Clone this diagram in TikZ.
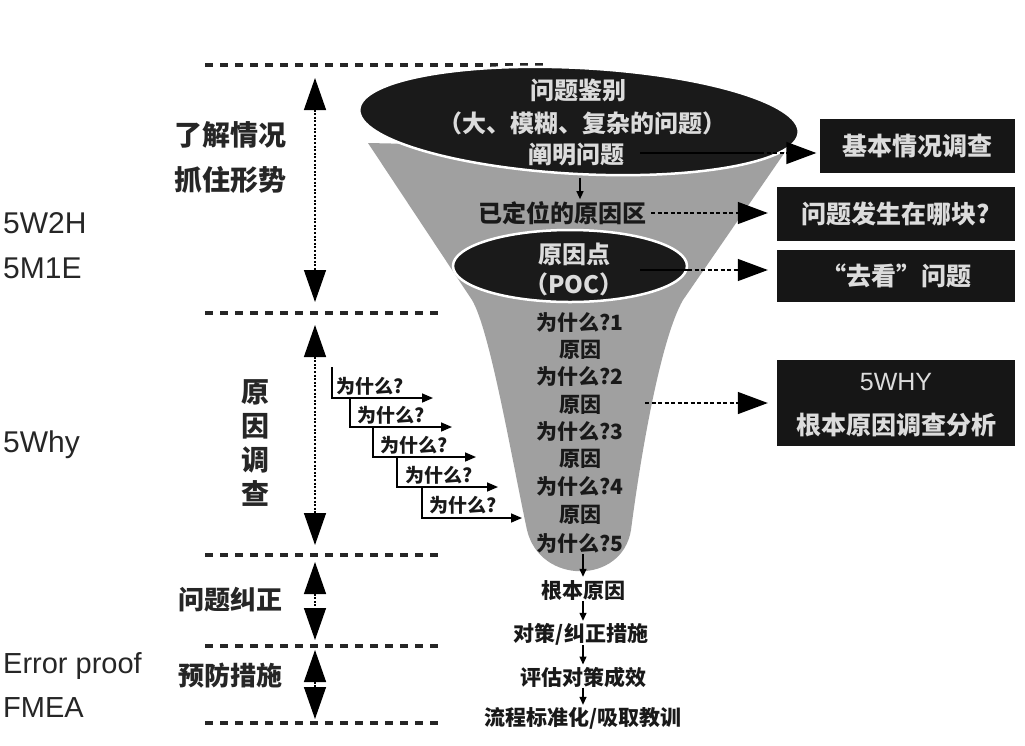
\documentclass[tikz,border=0pt]{standalone}
\usepackage{fontspec}
\setmainfont{Liberation Sans}
\newfontfamily\cjk{Noto Sans CJK SC}
\usetikzlibrary{arrows.meta,shapes.geometric}
\definecolor{funnelgray}{HTML}{A0A0A0}
\definecolor{ink}{HTML}{1A1A1A}
\definecolor{boxfill}{HTML}{161616}
\definecolor{paletext}{HTML}{DCDCDC}
\definecolor{lefttext}{HTML}{262626}
\tikzset{
  cb/.style={font=\cjk\bfseries\fontsize{#1}{#1}\selectfont, inner sep=0pt},
  cr/.style={font=\cjk\fontsize{#1}{#1}\selectfont, inner sep=0pt},
  lat/.style={font=\fontsize{#1}{#1}\selectfont, inner sep=0pt, anchor=base west, text=lefttext},
  sepline/.style={line width=3.5pt, dash pattern=on 8pt off 7pt, draw=black!85},
  spanarrow/.style={line width=1.4pt, dash pattern=on 2pt off 1.6pt, {Triangle[length=32pt,width=22pt]}-{Triangle[length=32pt,width=22pt]}},
  boxarrow/.style={line width=1.4pt, dash pattern=on 4pt off 2.5pt, -{Triangle[length=30pt,width=22pt]}},
  stairarrow/.style={line width=1.6pt, -{Triangle[length=11pt,width=9pt]}},
  smallarrow/.style={line width=1.3pt, -{Triangle[length=8pt,width=7pt]}},
  darkbox/.style={fill=boxfill, text=paletext, inner sep=0pt},
  tube/.style={cb=21, text=black!90},
  lefthead/.style={cb=#1, text=lefttext},
  pale/.style={cb=24, text=paletext},
}
\begin{document}
\begin{tikzpicture}[x=1pt,y=-1pt]
\useasboundingbox (0,0) rectangle (1025,745);
\fill[white] (0,0) rectangle (1025,745);

% separator lines
\draw[sepline] (205,65) -- (545,65);
\draw[sepline] (205,313) -- (440,313);
\draw[sepline] (205,555) -- (440,555);
\draw[sepline] (205,646) -- (440,646);
\draw[sepline] (205,723) -- (440,723);

% span arrows
\coordinate (s1a) at (315,78);  \coordinate (s1b) at (315,302);
\coordinate (s2a) at (315,325); \coordinate (s2b) at (315,545);
\coordinate (s3a) at (315,562); \coordinate (s3b) at (315,640);
\coordinate (s4a) at (315,650); \coordinate (s4b) at (315,719);
\draw[spanarrow] (s1a) -- (s1b);
\draw[spanarrow] (s2a) -- (s2b);
\draw[spanarrow] (s3a) -- (s3b);
\draw[spanarrow] (s4a) -- (s4b);

% left texts
\node[lefthead=28] (know1) at (230,135) {了解情况};
\node[lefthead=28] (know2) at (230,180) {抓住形势};
\node[lat=30] (w2h) at (3,233) {5W2H};
\node[lat=30] (m1e) at (3,278) {5M1E};
\node[lat=30] (fivewhy) at (3,452) {5Why};
\node[font=\cjk\bfseries\fontsize{28}{34}\selectfont, text=lefttext, inner sep=0pt, align=center] (cause) at (255,443) {原\\因\\调\\查};
\node[lefthead=26] (corr) at (230,600) {问题纠正};
\node[lefthead=26] (prev) at (230,676) {预防措施};
\node[lat=29] (ep) at (3,673) {Error proof};
\node[lat=29] (fmea) at (3,717) {FMEA};

% stairs
\coordinate (st1) at (332,367); \coordinate (st1e) at (433,398);
\coordinate (st2) at (350,398); \coordinate (st2e) at (452,427);
\coordinate (st3) at (373,427); \coordinate (st3e) at (476,457);
\coordinate (st4) at (397,457); \coordinate (st4e) at (498,487);
\coordinate (st5) at (422,487); \coordinate (st5e) at (522,518);
\draw[stairarrow] (st1) |- (st1e);
\draw[stairarrow] (st2) |- (st2e);
\draw[stairarrow] (st3) |- (st3e);
\draw[stairarrow] (st4) |- (st4e);
\draw[stairarrow] (st5) |- (st5e);
\node[cb=19, text=black!90] (q1) at (370,386) {为什么?};
\node[cb=19, text=black!90] (q2) at (391,415) {为什么?};
\node[cb=19, text=black!90] (q3) at (414,445) {为什么?};
\node[cb=19, text=black!90] (q4) at (439,475) {为什么?};
\node[cb=19, text=black!90] (q5) at (463,505) {为什么?};

% funnel
\fill[funnelgray] (368,143) -- (472,300) .. controls (490,330) and (512,460) .. (527,530)
  .. controls (540,585) and (622,585) .. (631,530)
  .. controls (640,460) and (660,340) .. (683,300) -- (785,152) -- cycle;
\node[ellipse, fill=ink, draw=white, line width=2.5pt, minimum width=440pt, minimum height=106pt, rotate=-3, inner sep=0pt] (topell) at (579,121) {};
\node[ellipse, fill=ink, draw=white, line width=2.5pt, minimum width=234pt, minimum height=72pt, inner sep=0pt] (pocell) at (570,266) {};

\node[pale] (ident) at (578,90) {问题鉴别};
\node[pale] (kinds) at (582,123) {（大、模糊、复杂的问题）};
\node[pale] (clar) at (576,155) {阐明问题};
\node[cb=24, text=black!90] (zone) at (562,213) {已定位的原因区};
\node[pale] (poc1) at (574,254) {原因点};
\node[pale] (poc2) at (574,284) {（POC）};
\draw[smallarrow, shorten <=11pt, shorten >=2pt] (clar.south -| 580,0) -- (zone.north -| 580,0);

% tube texts
\node[tube] (w1) at (580,323) {为什么?1};
\node[tube] (r1) at (580,350) {原因};
\node[tube] (w2) at (580,377) {为什么?2};
\node[tube] (r2) at (580,405) {原因};
\node[tube] (w3) at (580,432) {为什么?3};
\node[tube] (r3) at (580,459) {原因};
\node[tube] (w4) at (580,487) {为什么?4};
\node[tube] (r4) at (580,515) {原因};
\node[tube] (w5) at (580,544) {为什么?5};

% bottom chain
\node[tube] (root) at (583,591) {根本原因};
\node[tube] (meas) at (581,634) {对策/纠正措施};
\node[tube] (eval) at (583,677) {评估对策成效};
\node[tube] (std) at (583,718) {流程标准化/吸取教训};
\draw[smallarrow, shorten >=4pt] (root.north |- w5.south) -- (root.north);
\draw[smallarrow, shorten >=2pt] (root.south) -- (root.south |- meas.north);
\draw[smallarrow, shorten >=2pt] (meas.south -| root) -- (eval.north);
\draw[smallarrow, shorten >=2pt] (eval.south) -- (std.north);

% right boxes
\node[darkbox, cb=25, text=paletext, minimum width=195pt, minimum height=54pt] (b1) at (917,146) {基本情况调查};
\node[darkbox, cb=25, text=paletext, minimum width=238pt, minimum height=54pt] (b2) at (896,214) {问题发生在哪块?};
\node[darkbox, cb=25, text=paletext, minimum width=238pt, minimum height=52pt] (b3) at (896,276) {“去看”问题};
\node[darkbox, minimum width=238pt, minimum height=86pt] (b4) at (896,403) {};
\node[font=\fontsize{25}{25}\selectfont, text=paletext, inner sep=0pt] (b4a) at (896,382) {5WHY};
\node[cb=25, text=paletext] (b4b) at (896,425) {根本原因调查分析};

% arrows to boxes
\coordinate (a1s) at (640,153); \coordinate (a1m) at (760,153);
\draw[line width=1.5pt] (a1s) -- (a1m);
\draw[boxarrow, shorten >=3pt] (a1m) -- (a1m -| b1.west);
\draw[boxarrow, shorten <=5pt, shorten >=9pt] (zone.east) -- (zone.east -| b2.west);
\coordinate (a3s) at (640,270); \coordinate (a3m) at (688,270);
\draw[line width=1.5pt] (a3s) -- (a3m);
\draw[boxarrow, shorten >=9pt] (a3m) -- (a3m -| b3.west);
\coordinate (a4s) at (645,403);
\draw[boxarrow, shorten >=9pt] (a4s) -- (b4.west);
\end{tikzpicture}
\end{document}
